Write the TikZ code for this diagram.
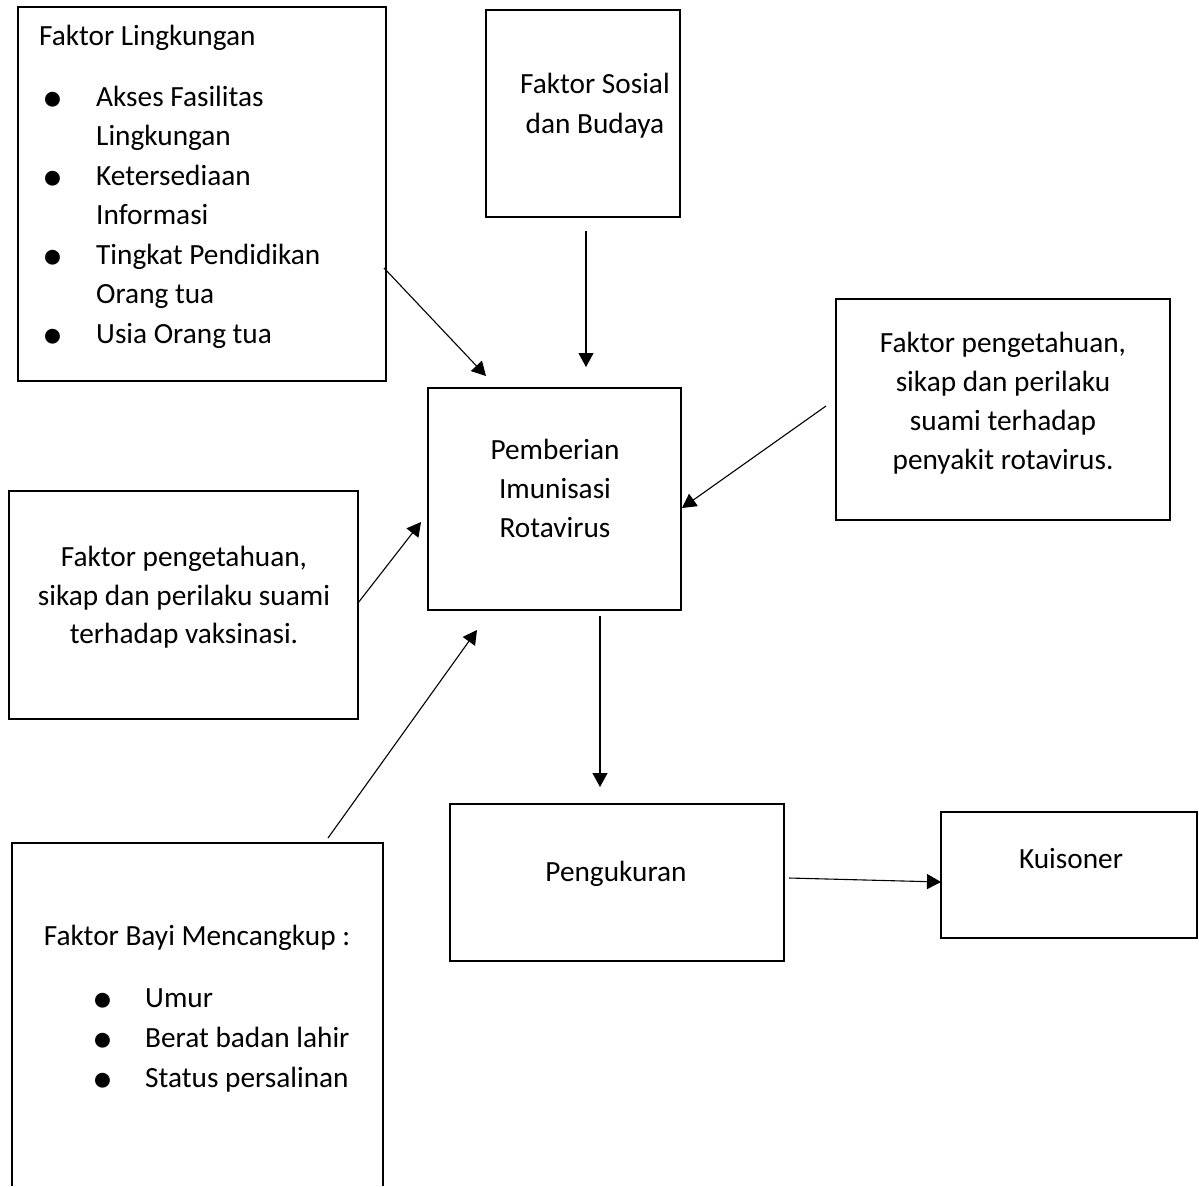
\documentclass[tikz,border=0pt]{standalone}
\usepackage{fontspec}
\setmainfont{Carlito}
\usetikzlibrary{arrows.meta}
\tikzset{
  box/.style={draw, line width=2.2pt, inner sep=0pt},
  thinbox/.style={draw, line width=1.2pt, inner sep=0pt},
  txt/.style={font=\fontsize{29.3}{35}\selectfont, inner sep=0pt},
  ctxt/.style={txt, anchor=base},
  ltxt/.style={txt, anchor=base west},
  bul/.style={font=\fontsize{42}{42}\selectfont, inner sep=0pt, anchor=base},
  arr/.style={line width=1.1pt, -{Triangle[length=14pt,width=15pt]}}
}
\begin{document}
\begin{tikzpicture}[x=1pt,y=-1pt]
\useasboundingbox (0,0) rectangle (1199,1186);
% boxes
\node[thinbox, minimum width=368, minimum height=374] (ling) at (202,194) {};
\node[thinbox, minimum width=194, minimum height=207] (sos) at (583,113.5) {};
\node[box, minimum width=253, minimum height=222] (pem) at (554.5,499) {};
\node[box, minimum width=334, minimum height=221] (rot) at (1003,409.5) {};
\node[box, minimum width=349, minimum height=228] (vak) at (183.5,605) {};
\node[minimum width=371, minimum height=343, inner sep=0pt] (bayi) at (197.5,1014.5) {};
\draw[line width=2.2pt] (bayi.south west) -- (bayi.north west) -- (bayi.north east) -- (bayi.south east);
\node[box, minimum width=334, minimum height=157] (peng) at (617,882.5) {};
\node[box, minimum width=256, minimum height=126] (kuis) at (1069,875) {};

% Faktor Lingkungan
\node[ltxt] (l0) at (39,45) {Faktor Lingkungan};
\node[bul] (lb1) at (53,111) {•};
\node[bul] (lb2) at (53,190) {•};
\node[bul] (lb3) at (53,269) {•};
\node[bul] (lb4) at (53,348) {•};
\node[ltxt] (l1) at (96,106) {Akses Fasilitas};
\node[ltxt] (l2) at (96,145.5) {Lingkungan};
\node[ltxt] (l3) at (96,185) {Ketersediaan};
\node[ltxt] (l4) at (96,224.5) {Informasi};
\node[ltxt] (l5) at (96,264) {Tingkat Pendidikan};
\node[ltxt] (l6) at (96,303.5) {Orang tua};
\node[ltxt] (l7) at (96,343) {Usia Orang tua};

% Faktor Sosial
\node[ctxt] (s1) at (595,93) {Faktor Sosial};
\node[ctxt] (s2) at (595,133) {dan Budaya};

% Pemberian
\node[ctxt] (p1) at (555,459) {Pemberian};
\node[ctxt] (p2) at (555,498) {Imunisasi};
\node[ctxt] (p3) at (555,537) {Rotavirus};

% right box
\node[ctxt] (r1) at (1003,352) {Faktor pengetahuan,};
\node[ctxt] (r2) at (1003,391) {sikap dan perilaku};
\node[ctxt] (r3) at (1003,430) {suami terhadap};
\node[ctxt] (r4) at (1003,469) {penyakit rotavirus.};

% left box
\node[ctxt] (v1) at (184,566.5) {Faktor pengetahuan,};
\node[ctxt] (v2) at (184,605) {sikap dan perilaku suami};
\node[ctxt] (v3) at (184,643.5) {terhadap vaksinasi.};

% bayi
\node[ctxt] (b0) at (197,945) {Faktor Bayi Mencangkup :};
\node[bul] (bb1) at (103,1012) {•};
\node[bul] (bb2) at (103,1052) {•};
\node[bul] (bb3) at (103,1092) {•};
\node[ltxt] (b1) at (145,1007) {Umur};
\node[ltxt] (b2) at (145,1047) {Berat badan lahir};
\node[ltxt] (b3) at (145,1087) {Status persalinan};

% pengukuran, kuisoner
\node[ctxt] (pg) at (616,881) {Pengukuran};
\node[ctxt] (ks) at (1071,868) {Kuisoner};

% arrow ends
\coordinate (a1s) at (384,268);  \coordinate (a1e) at (486,376);
\coordinate (a2s) at (586,231);  \coordinate (a2e) at (586,367);
\coordinate (a3s) at (826,406);  \coordinate (a3e) at (682,508);
\coordinate (a4s) at (358,603);  \coordinate (a4e) at (421,522);
\coordinate (a5s) at (328,838);  \coordinate (a5e) at (477,630);
\coordinate (a6s) at (600,616);  \coordinate (a6e) at (600,787);
\coordinate (a7s) at (789,878);  \coordinate (a7e) at (941,882);
\draw[arr] (a1s) -- (a1e);
\draw[arr] (a2s) -- (a2e);
\draw[arr] (a3s) -- (a3e);
\draw[arr] (a4s) -- (a4e);
\draw[arr] (a5s) -- (a5e);
\draw[arr] (a6s) -- (a6e);
\draw[arr] (a7s) -- (a7e);
\end{tikzpicture}
\end{document}
